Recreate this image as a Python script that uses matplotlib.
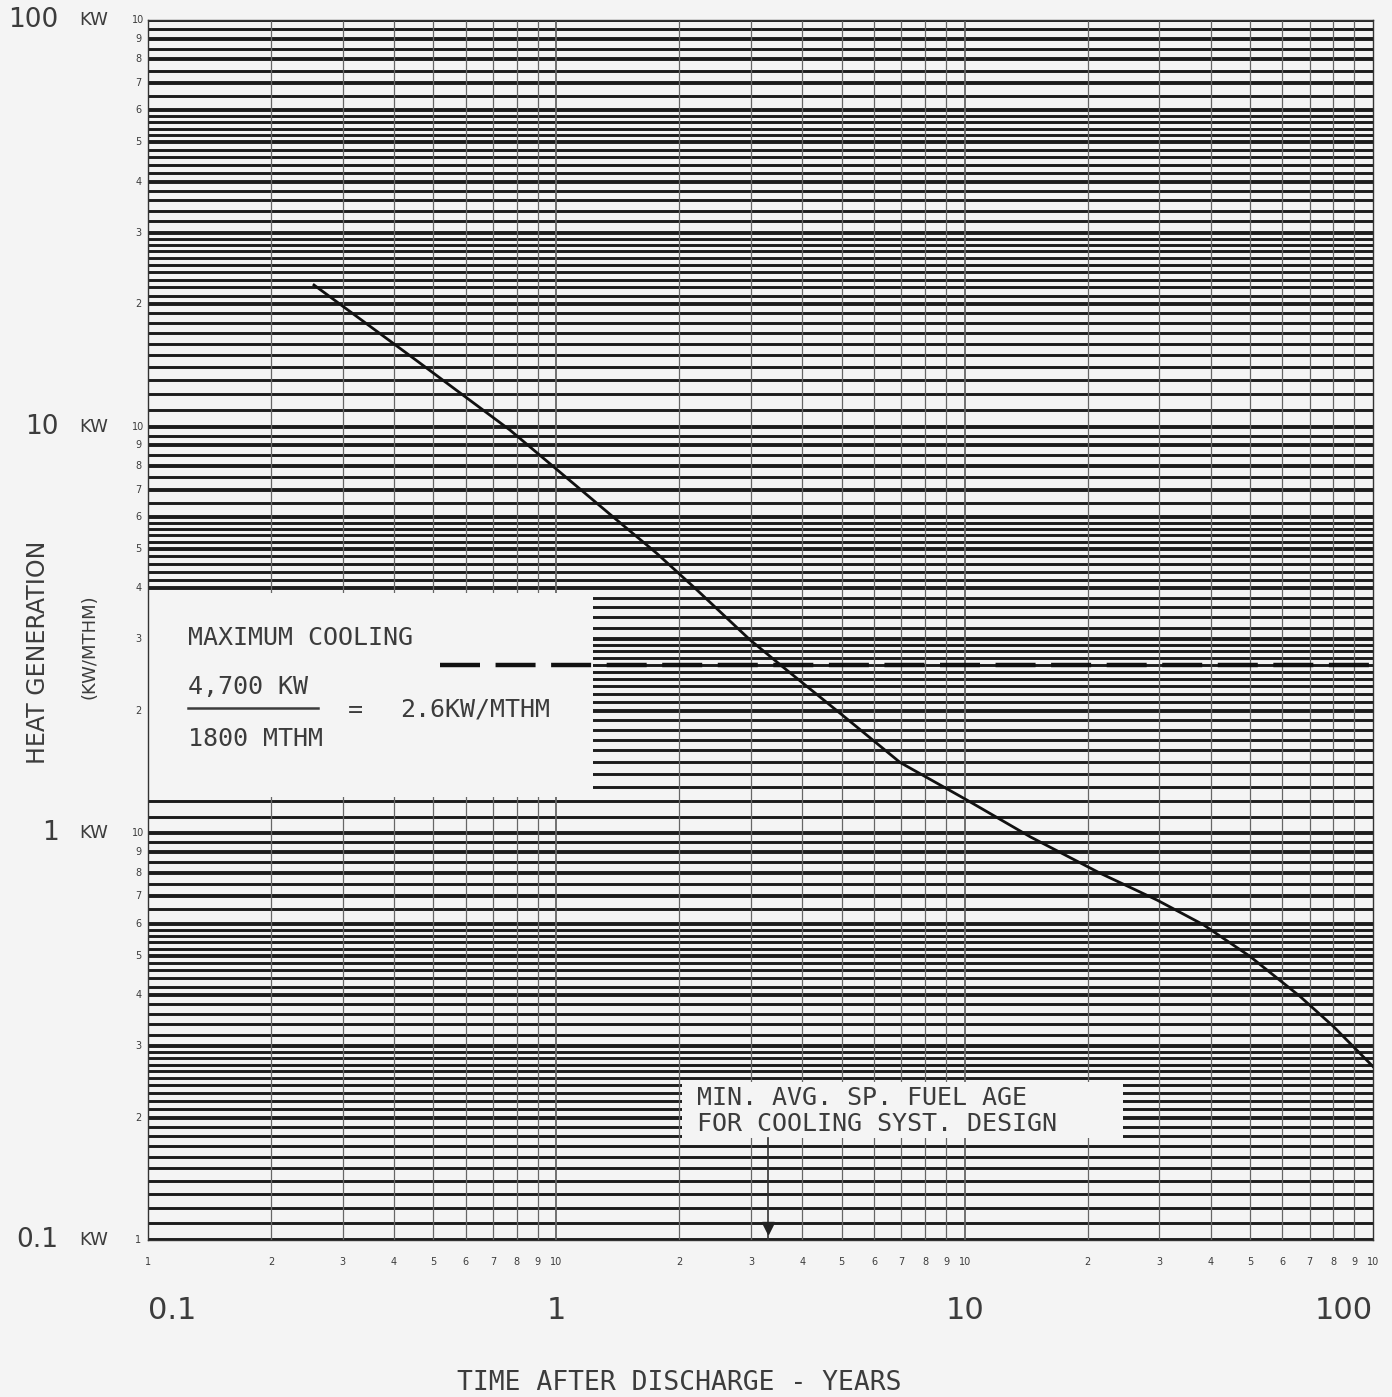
import matplotlib.pyplot as plt
from matplotlib.transforms import blended_transform_factory
from matplotlib.patches import Rectangle
from matplotlib.ticker import NullFormatter

# decay heat curve (years after discharge, kW/MTHM)
years = [0.255, 0.446, 0.770, 1.377, 1.762, 2.208, 2.981, 3.667, 4.953,
         6.947, 10.12, 14.46, 21.46, 29.54, 38.42, 50.0, 66.3, 80.0, 100]
heat = [22.3, 14.75, 9.81, 6.00, 4.88, 3.97, 2.99, 2.52, 1.974,
        1.494, 1.208, 0.981, 0.798, 0.686, 0.596, 0.498, 0.397, 0.335, 0.267]

max_cooling = 2.6      # 4700 kW / 1800 MTHM
cooling_start = 0.52   # where the dashed limit line starts
min_age = 3.3          # min. avg. spent fuel age

decades = [0.1, 1, 10]
x_major = [0.1, 1, 10, 100]
x_major_labels = ['0.1', '1', '10', '100']
y_major = [100, 10, 1, 0.1]
y_major_labels = ['100', '10', '1', '0.1']

# log paper rulings within one decade
h_mults = ([1 + 0.1 * i for i in range(20)] + [3 + 0.2 * i for i in range(15)]
           + [6 + 0.5 * i for i in range(8)])
v_mults = list(range(1, 10))

W, H = 1392, 1397
paper = '#f4f4f4'
ink = '#3c3c3c'


def fx(x):
    return x / W


def fy(y):
    return 1 - y / H


fig = plt.figure(figsize=(W / 100, H / 100), dpi=100, facecolor=paper)
ax = fig.add_axes([fx(148), fy(1240), (1373 - 148) / W, (1240 - 20) / H])
ax.set_xscale('log')
ax.set_yscale('log')
ax.set_xlim(0.1, 100)
ax.set_ylim(0.1, 100)
ax.set_facecolor(paper)

# graph paper
for dec in decades:
    for m in h_mults:
        major = abs(m - round(m)) < 1e-9
        ax.axhline(m * dec, color='#1c1c1c', lw=2.8 if major else 2.1, zorder=1)
    for m in v_mults:
        ax.axvline(m * dec, color='#666666', lw=0.9 if m > 1 else 1.3, zorder=1.5)
ax.axhline(100, color='#1c1c1c', lw=2.8, zorder=1)

# blank label boxes pasted over the paper
ax.add_patch(Rectangle((0, 0.363), 0.363, 0.167, transform=ax.transAxes,
                       facecolor=paper, edgecolor='none', zorder=2))
ax.add_patch(Rectangle((0.436, 0.0836), 0.36, 0.046, transform=ax.transAxes,
                       facecolor=paper, edgecolor='none', zorder=2))

ax.plot(years, heat, color='#111111', lw=2.0, zorder=5)
ax.plot([cooling_start, 100], [max_cooling, max_cooling], color='#111111',
        lw=3.2, dashes=(9, 3.5), zorder=4)

# fuel age marker
ax.axvline(min_age, ymin=0, ymax=0.0836, color='#333333', lw=1.2, zorder=3)
ax.plot([min_age], [0.107], marker='v', color='#222222', ms=8, zorder=5)

for s in ax.spines.values():
    s.set_linewidth(1.0)
    s.set_color('#333333')

ax.tick_params(which='both', length=0)
ax.xaxis.set_minor_formatter(NullFormatter())
ax.yaxis.set_minor_formatter(NullFormatter())
ax.set_xticks(x_major)
ax.set_xticklabels(x_major_labels, fontsize=22, color=ink)
ax.tick_params(axis='x', pad=40)
ax.get_xticklabels()[0].set_ha('left')
ax.get_xticklabels()[-1].set_ha('right')
ax.set_yticks([])

# small cycle numbers along both axes
ty = blended_transform_factory(ax.transAxes, ax.transData)
tx = blended_transform_factory(ax.transData, ax.transAxes)
ax.text(-0.008, 0.1, '1', transform=ty, fontsize=7, ha='center', va='center', color=ink)
ax.text(0.1, -0.018, '1', transform=tx, fontsize=7, ha='center', va='center', color=ink)
for dec in decades:
    for m in range(2, 11):
        ax.text(-0.008, m * dec, str(m), transform=ty, fontsize=7,
                ha='center', va='center', color=ink)
        ax.text(m * dec, -0.018, str(m), transform=tx, fontsize=7,
                ha='center', va='center', color=ink)

for v, lab in zip(y_major, y_major_labels):
    ax.text(-0.073, v, lab, transform=ty, fontsize=19, ha='right', va='center', color=ink)
    ax.text(-0.056, v, 'KW', transform=ty, fontsize=13, ha='left', va='center', color=ink)

fig.text(fx(38), fy(652), 'HEAT GENERATION', rotation=90, fontsize=17,
         ha='center', va='center', color=ink)
fig.text(fx(90), fy(647), '(KW/MTHM)', rotation=90, fontsize=13,
         ha='center', va='center', color=ink)
fig.text(fx(679), fy(1383), 'TIME AFTER DISCHARGE - YEARS', family='DejaVu Sans Mono',
         fontsize=19, ha='center', va='center', color=ink)

mono = dict(family='DejaVu Sans Mono', fontsize=18, color=ink, va='center')
fig.text(fx(188), fy(638), 'MAXIMUM COOLING', ha='left', **mono)
fig.text(fx(188), fy(687), '4,700 KW', ha='left', **mono)
fig.add_artist(plt.Line2D([fx(188), fx(318)], [fy(708), fy(708)],
                          transform=fig.transFigure, color=ink, lw=1.8))
fig.text(fx(188), fy(739), '1800 MTHM', ha='left', **mono)
fig.text(fx(355), fy(710), '=', ha='center', **mono)
fig.text(fx(400), fy(710), '2.6KW/MTHM', ha='left', **mono)

fig.text(fx(697), fy(1098), 'MIN. AVG. SP. FUEL AGE', ha='left', **mono)
fig.text(fx(697), fy(1124), 'FOR COOLING SYST. DESIGN', ha='left', **mono)

fig.savefig('out.png', dpi=100, facecolor=paper)
